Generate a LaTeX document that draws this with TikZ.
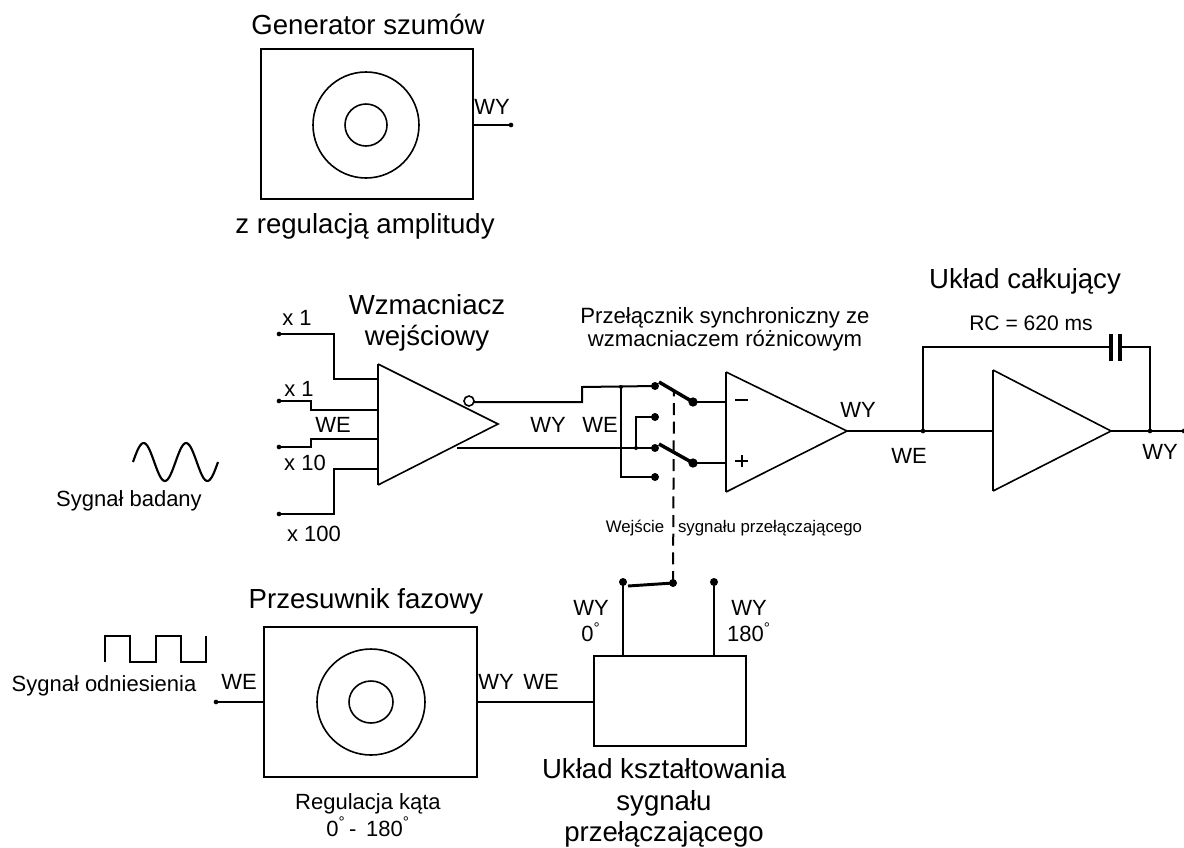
\documentclass[tikz,border=0pt]{standalone}
\usepackage{fontspec}
\setmainfont{Liberation Sans}
\tikzset{
  wire/.style={line width=1.5pt,line join=miter},
  outline/.style={line width=1.2pt,line join=miter},
  blade/.style={line width=2.6pt},
  dot/.style={circle,fill=black,inner sep=0pt,minimum size=#1},
  dot/.default=3.5pt,
  big/.style={font=\fontsize{20.7}{23.6}\selectfont,align=center,inner sep=0pt},
  mid/.style={font=\fontsize{16.5}{19}\selectfont,align=center,inner sep=0pt},
  small/.style={font=\fontsize{12.6}{15}\selectfont,align=center,inner sep=0pt},
}
\begin{document}
\begin{tikzpicture}[x=0.75pt,y=-0.75pt]
\useasboundingbox (0,0) rectangle (1184,847);
% ---- generator
\draw[wire] (261,49) rectangle (473,199);
\draw[outline] (366,125) circle[radius=53];
\draw[outline] (366,125) circle[radius=21];
\node[dot] (genout) at (511,125) {};
\draw[wire] (473,125) -- (genout.center);
\node[big] (t1) at (368,24) {Generator szumów};
\node[big] (t2) at (365,226) {z regulacją amplitudy};
\node[mid] (wy1) at (492,107) {WY};
% ---- input amp
\coordinate (amp1) at (378,364);
\coordinate (amp2) at (378,485);
\coordinate (amp3) at (498,424);
\draw[outline] (amp1) -- (amp3) -- (amp2);
\draw[wire] (amp1) -- (amp2);
\node[dot] (i1) at (279,334) {};
\node[dot] (i2) at (279,401) {};
\node[dot] (i3) at (279,447) {};
\node[dot] (i4) at (279,514) {};
\draw[wire] (i1.center) -- (334,334) -- (334,379) -- (378,379);
\draw[wire] (i2.center) -- (311,401) -- (311,410) -- (378,410);
\draw[wire] (i3.center) -- (311,447) -- (311,439) -- (378,439);
\draw[wire] (i4.center) -- (334,514) -- (334,469) -- (378,469);
\node[big] (t3) at (427,323) {Wzmacniacz\\wejściowy};
\node[mid] (x1a) at (297,318) {x 1};
\node[mid] (x1b) at (299,389) {x 1};
\node[mid] (x10) at (305,463) {x 10};
\node[mid] (x100) at (314,534) {x 100};
\node[mid] (we1) at (333,425) {WE};
\node[mid] (wy2) at (548,425) {WY};
\node[mid] (we2) at (600,425) {WE};
\draw[outline,fill=white] (469,401) circle[radius=5];
% ---- switch
\node[dot=6pt] (s1) at (655,386) {};
\node[dot=6pt] (s2) at (655,417) {};
\node[dot=6pt] (s3) at (655,448) {};
\node[dot=6pt] (s4) at (655,477) {};
\node[dot=7pt] (b1) at (693,402) {};
\node[dot=7pt] (b2) at (693,463) {};
\draw[wire] (474,402) -- (582,402) -- (582,387) -- (s1.center);
\draw[wire] (457,448) -- (s3.center);
\node[dot=3pt] (j1) at (621,387) {};
\node[dot=3pt] (j2) at (636,448) {};
\draw[wire] (j1.center) -- (621,477) -- (s4.center);
\draw[wire] (j2.center) -- (636,417) -- (s2.center);
\draw[blade] (s1.center) ++(4,-4) -- (b1.center);
\draw[blade] (s3.center) ++(4,-4) -- (b2.center);
% ---- diff amp
\coordinate (d1) at (726,372);
\coordinate (d2) at (726,492);
\coordinate (d3) at (847,431);
\draw[outline] (d1) -- (d3) -- (d2);
\draw[wire] (d1) -- (d2);
\draw[wire] (b1.center) -- (726,402);
\draw[wire] (b2.center) -- (726,463);
\draw[wire] (735,400) -- (748,400);
\draw[wire] (735,461) -- (748,461);
\draw[wire] (741.5,455) -- (741.5,467);
\node[mid] (wy3) at (858,410) {WY};
\node[mid,font=\fontsize{16.6}{17.5}\selectfont] (t4) at (725,329) {Przełącznik synchroniczny ze\\wzmacniaczem różnicowym};
% ---- integrator
\coordinate (k1) at (993,370);
\coordinate (k2) at (993,491);
\coordinate (k3) at (1111,431);
\draw[outline] (k1) -- (k3) -- (k2);
\draw[wire] (k1) -- (k2);
\node[dot] (jin) at (923,431) {};
\node[dot] (jout) at (1150,431) {};
\node[dot] (end) at (1184,431) {};
\draw[wire] (d3) -- (993,431);
\draw[wire] (k3) -- (end.center);
\draw[wire] (jin.center) -- (923,347) -- (1109,347);
\draw[wire] (1122,347) -- (1150,347) -- (jout.center);
\draw[line width=3pt] (1111,334) -- (1111,361);
\draw[line width=3pt] (1120,334) -- (1120,361);
\node[big] (t5) at (1025,281) {Układ całkujący};
\node[mid,font=\fontsize{15.8}{18}\selectfont] (t6) at (1031,323) {RC = 620 ms};
\node[mid] (we3) at (909,456) {WE};
\node[mid] (wy4) at (1160,452) {WY};
% ---- control
\node[dot=6pt] (c1) at (623,582) {};
\node[dot=6pt] (c2) at (673,583) {};
\node[dot=6pt] (c3) at (714,582) {};
\draw[wire,line width=2.2pt] (628,586) -- (c2.center);
\draw[wire,dash pattern=on 9pt off 5pt] (c2.center) -- (674,390);
\draw[wire] (c1.center) -- (623,656);
\draw[wire] (c3.center) -- (714,656);
\node[small] (w1) at (635,528) {Wejście};
\node[small] (w2) at (770,528) {sygnału przełączającego};
\node[mid] (wy5) at (591,621) {WY\\[1pt]0\textsuperscript{°}};
\node[mid] (wy6) at (749,621) {WY\\[1pt]180\textsuperscript{°}};
\draw[wire] (594,656) rectangle (746,746);
\node[big] (t7) at (664,803) {Układ kształtowania\\sygnału\\przełączającego};
% ---- phase
\draw[wire] (264,627) rectangle (477,777);
\draw[outline] (371,702) ellipse[x radius=54,y radius=53];
\draw[outline] (371,702) ellipse[x radius=22,y radius=21];
\node[dot] (pin) at (216,702) {};
\draw[wire] (pin.center) -- (264,702);
\draw[wire] (477,702) -- (594,702);
\node[big] (t8) at (366,601) {Przesuwnik fazowy};
\node[mid] (we4) at (239,682) {WE};
\node[mid] (wy7) at (496,682) {WY};
\node[mid] (we5) at (541,682) {WE};
\node[mid] (t9) at (368,815) {Regulacja kąta\\[1pt]0\textsuperscript{°}\,-\, 180\textsuperscript{°}};
% ---- signals
\draw[wire,line width=1.6pt] plot[smooth,domain=0:720,samples=60] ({133+\x/720*85},{462-19*sin(\x)});
\node[mid] (sb) at (129,501) {Sygnał badany};
\draw[wire,line width=2pt] (105,662) -- (105,636) -- (130,636) -- (130,662) -- (156,662) -- (156,636) -- (181,636) -- (181,662) -- (206,662) -- (206,636);
\node[mid] (so) at (104,686) {Sygnał odniesienia};
\end{tikzpicture}
\end{document}
